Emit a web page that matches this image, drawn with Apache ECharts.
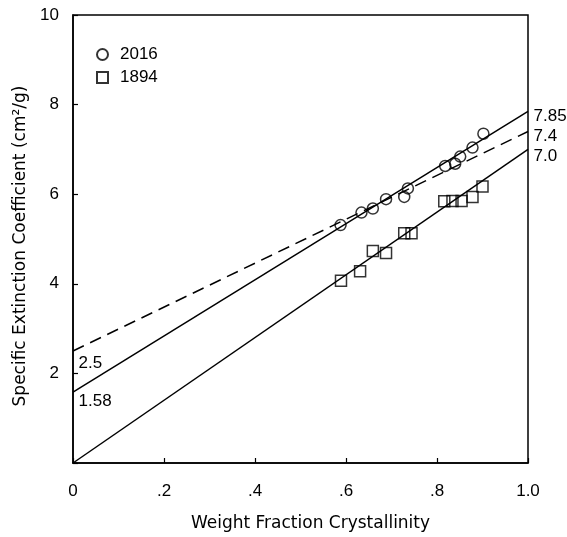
<!DOCTYPE html>
<html>
<head>
<meta charset="utf-8">
<script src="https://cdn.jsdelivr.net/npm/echarts@6/dist/echarts.min.js"></script>
<style>
html,body{margin:0;padding:0;background:#fff;}
#chart{width:567px;height:537px;}
</style>
</head>
<body>
<div id="chart"></div>
<script>
// ---- data ----
var circlesX = [0.588, 0.634, 0.659, 0.688, 0.728, 0.736, 0.818, 0.840, 0.851, 0.878, 0.902];
var circlesY = [5.31, 5.59, 5.68, 5.89, 5.94, 6.13, 6.63, 6.68, 6.84, 7.04, 7.35];
var squaresX = [0.589, 0.631, 0.659, 0.688, 0.728, 0.744, 0.816, 0.834, 0.854, 0.878, 0.900];
var squaresY = [4.07, 4.28, 4.73, 4.69, 5.13, 5.13, 5.84, 5.85, 5.85, 5.94, 6.17];
var lineUpperSolid = [[0, 1.58], [1.0, 7.85]];
var lineDashed = [[0, 2.5], [1.0, 7.4]];
var lineLowerSolid = [[0, 0], [1.0, 7.0]];
var lineUpperLabels = ['1.58', '7.85'];
var lineDashedLabels = ['2.5', '7.4'];
var lineLowerLabels = ['', '7.0'];
var seriesNames = ['2016', '1894'];
var xTickLabels = ['0', '.2', '.4', '.6', '.8', '1.0'];
var yTickLabels = ['', '2', '4', '6', '8', '10'];
var xTitle = 'Weight Fraction Crystallinity';
var yTitle = 'Specific Extinction Coefficient (cm\u00B2/g)';

var FONT_TITLE = 'DejaVu Sans';
var FONT_NUM = 'Liberation Sans';

function zipXY(xs, ys){ return xs.map(function(x,i){ return [x, ys[i]]; }); }

function lineData(pts, labels, startOff, endOff){
  return pts.map(function(p, i){
    return {
      value: p,
      label: {
        show: labels[i] !== '',
        offset: i === 0 ? startOff : endOff
      }
    };
  });
}

function lineSeries(pts, labels, dashed, startOff, endOff){
  return {
    type: 'line',
    data: lineData(pts, labels, startOff, endOff),
    symbol: 'circle',
    symbolSize: 1,
    showSymbol: true,
    silent: true,
    clip: false,
    lineStyle: { color: '#000', width: 1.5, type: dashed ? [12, 7] : 'solid' },
    itemStyle: { color: 'rgba(0,0,0,0)', borderWidth: 0 },
    label: {
      show: true,
      position: 'right',
      distance: 5,
      color: '#000',
      fontFamily: FONT_NUM,
      fontSize: 17,
      formatter: function(p){ return labels[p.dataIndex]; }
    },
    z: 1
  };
}

var chart = echarts.init(document.getElementById('chart'), null, {renderer: 'canvas'});
var option = {
  backgroundColor: '#fff',
  animation: false,
  textStyle: { fontFamily: FONT_NUM, color: '#000' },
  grid: { left: 73, right: 39, top: 15, bottom: 72, show: true, borderColor: '#000', borderWidth: 1.5, containLabel: false },
  legend: {
    orient: 'vertical',
    left: 91, top: 41,
    itemWidth: 11, itemHeight: 11, itemGap: 6,
    selectedMode: false,
    data: [
      { name: seriesNames[0], icon: 'circle' },
      { name: seriesNames[1], icon: 'rect' }
    ],
    textStyle: { fontFamily: FONT_NUM, fontSize: 17, color: '#000', padding: [0, 0, 0, 7] }
  },
  xAxis: {
    type: 'value', min: 0, max: 1, interval: 0.2,
    name: xTitle, nameLocation: 'middle', nameGap: 52,
    nameTextStyle: { fontFamily: FONT_TITLE, fontSize: 17, color: '#000', padding: [0, 0, 0, 20] },
    axisLine: { show: true, lineStyle: { color: '#000', width: 1.5 } },
    axisTick: { show: true, inside: true, length: 5, lineStyle: { color: '#000', width: 1.2 } },
    splitLine: { show: false },
    axisLabel: {
      margin: 20, color: '#000', fontFamily: FONT_NUM, fontSize: 17,
      formatter: function(v){ return xTickLabels[Math.round(v / 0.2)]; }
    }
  },
  yAxis: {
    type: 'value', min: 0, max: 10, interval: 2,
    name: yTitle, nameLocation: 'middle', nameGap: 44,
    nameTextStyle: { fontFamily: FONT_TITLE, fontSize: 17, color: '#000', padding: [0, 14, 0, 0] },
    axisLine: { show: true, lineStyle: { color: '#000', width: 1.5 } },
    axisTick: { show: true, inside: true, length: 5, lineStyle: { color: '#000', width: 1.2 } },
    splitLine: { show: false },
    axisLabel: {
      margin: 14, color: '#000', fontFamily: FONT_NUM, fontSize: 17,
      formatter: function(v){ return yTickLabels[Math.round(v / 2)]; }
    }
  },
  series: [
    {
      name: seriesNames[0], type: 'scatter', symbol: 'circle', symbolSize: 11,
      data: zipXY(circlesX, circlesY),
      itemStyle: { color: 'rgba(255,255,255,0)', borderColor: '#000', borderWidth: 1.5 },
      z: 3
    },
    {
      name: seriesNames[1], type: 'scatter', symbol: 'rect', symbolSize: 11,
      data: zipXY(squaresX, squaresY),
      itemStyle: { color: 'rgba(255,255,255,0)', borderColor: '#000', borderWidth: 1.5 },
      z: 3
    },
    lineSeries(lineUpperSolid, lineUpperLabels, false, [0, 9], [0, 5]),
    lineSeries(lineDashed, lineDashedLabels, true, [0, 12], [0, 5]),
    lineSeries(lineLowerSolid, lineLowerLabels, false, [0, 0], [0, 7])
  ]
};
chart.setOption(option);
</script>
</body>
</html>
